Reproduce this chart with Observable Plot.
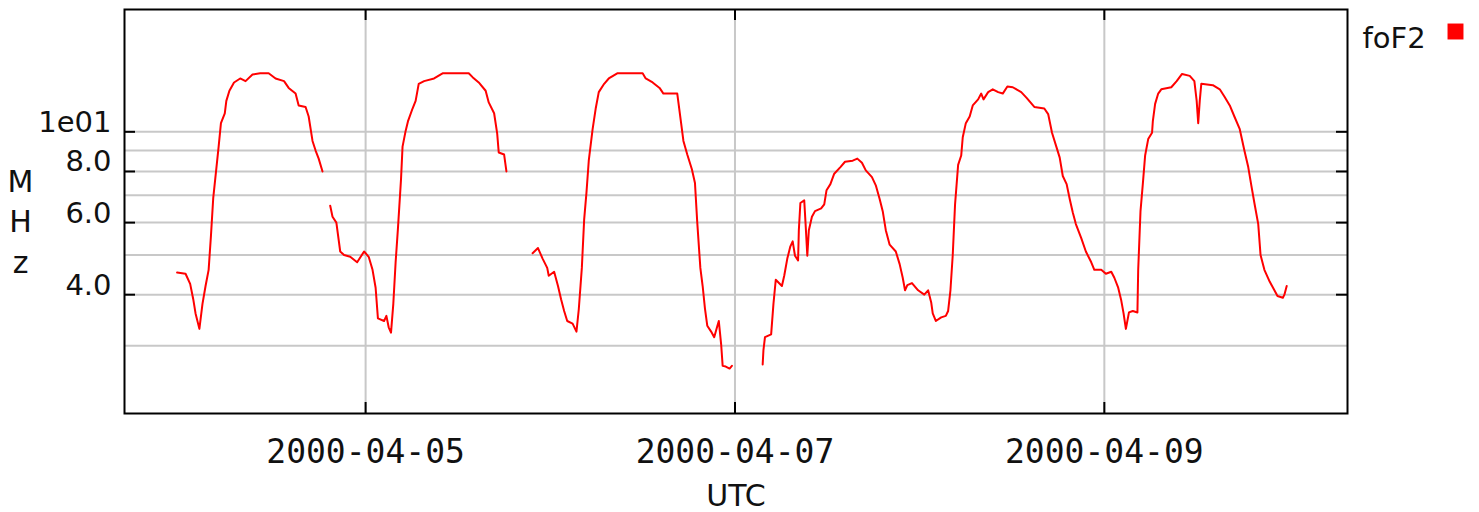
<!DOCTYPE html>
<html>
<head>
<meta charset="utf-8">
<script src="https://cdn.jsdelivr.net/npm/d3@7"></script>
<script src="https://cdn.jsdelivr.net/npm/@observablehq/plot@0.6"></script>
<style>
  html, body { margin: 0; padding: 0; background: #fff; }
  #chart svg { display: block; }
</style>
</head>
<body>
<div id="chart"></div>
<script>
// foF2 (MHz) readings, as [hours since baseTime, MHz]; gaps separate segments
const baseTime = "2000-04-04T00:00:00Z";
const seg1 = [[-0.5,4.53],[0.6,4.5],[1.2,4.25],[1.6,3.9],[1.9,3.6],[2.4,3.3],[2.8,3.8],[3.2,4.2],[3.6,4.6],[3.9,5.57],[4.2,6.9],[4.5,7.8],[4.9,9.2],[5.2,10.5],[5.7,11.1],[5.9,11.9],[6.3,12.6],[6.9,13.2],[7.7,13.5],[8.4,13.3],[9.3,13.8],[10.3,13.9],[11.4,13.9],[12.3,13.5],[13.4,13.3],[14.0,12.8],[14.9,12.4],[15.3,11.6],[16.2,11.5],[16.6,10.9],[17.1,9.5],[17.5,9.0],[17.9,8.6],[18.4,8.0]];
const seg2 = [[19.4,6.6],[19.7,6.2],[20.2,6.0],[20.7,5.1],[21.2,5.0],[22.0,4.95],[22.9,4.8],[23.8,5.1],[24.4,4.95],[24.9,4.6],[25.3,4.16],[25.6,3.5],[26.4,3.45],[26.7,3.55],[27.0,3.33],[27.3,3.23],[27.6,3.8],[27.9,4.8],[28.2,5.8],[28.6,7.65],[28.8,9.2],[29.2,10.05],[29.5,10.6],[30.1,11.4],[30.5,11.9],[30.9,13.1],[31.6,13.3],[32.9,13.5],[34.0,13.9],[37.4,13.9],[37.9,13.6],[38.7,13.2],[39.6,12.6],[40.0,11.8],[40.7,11.1],[41.1,9.9],[41.3,8.9],[42.0,8.8],[42.3,8.0]];
const seg3 = [[45.7,5.05],[46.4,5.2],[47.0,4.9],[47.6,4.65],[47.8,4.45],[48.5,4.55],[49.0,4.2],[49.4,3.9],[49.8,3.65],[50.2,3.45],[50.9,3.4],[51.4,3.25],[51.7,3.68],[52.1,4.65],[52.4,6.1],[52.7,7.1],[53.0,8.5],[53.5,10.15],[53.9,11.4],[54.3,12.5],[55.0,13.1],[55.6,13.5],[56.7,13.9],[60.0,13.9],[60.4,13.5],[61.3,13.2],[62.2,12.8],[62.7,12.4],[64.5,12.4],[65.0,10.5],[65.3,9.5],[65.8,8.8],[66.4,8.1],[66.8,7.5],[67.1,6.0],[67.5,4.65],[67.8,4.2],[68.1,3.7],[68.4,3.36],[68.9,3.25],[69.3,3.15],[69.7,3.35],[69.9,3.45],[70.2,3.03],[70.4,2.68],[70.8,2.67],[71.3,2.64],[71.6,2.68]];
const seg4 = [[75.6,2.7],[75.7,2.93],[75.9,3.15],[76.7,3.2],[77.0,3.8],[77.3,4.35],[78.1,4.2],[78.4,4.45],[78.8,4.9],[79.2,5.25],[79.5,5.4],[79.8,4.98],[80.2,4.85],[80.3,5.75],[80.5,6.7],[81.0,6.8],[81.2,5.85],[81.4,4.98],[81.6,5.75],[82.0,6.2],[82.4,6.4],[83.2,6.5],[83.6,6.65],[83.9,7.2],[84.4,7.45],[84.9,7.9],[85.7,8.2],[86.3,8.45],[87.3,8.5],[87.9,8.6],[88.5,8.4],[89.0,8.05],[89.8,7.75],[90.3,7.4],[90.8,6.85],[91.2,6.4],[91.6,5.75],[92.1,5.3],[92.9,5.1],[93.4,4.75],[93.8,4.4],[94.1,4.1],[94.4,4.22],[95.0,4.27],[95.8,4.1],[96.6,4.0],[97.1,4.1],[97.5,3.83],[97.7,3.6],[98.1,3.45],[98.8,3.52],[99.4,3.55],[99.7,3.65],[100.0,4.1],[100.3,5.0],[100.6,6.65],[101.0,8.3],[101.4,8.75],[101.6,9.7],[102.0,10.5],[102.5,10.9],[102.9,11.6],[103.6,12.0],[104.0,12.4],[104.3,12.0],[104.9,12.5],[105.5,12.7],[106.2,12.5],[106.8,12.4],[107.4,12.9],[108.1,12.85],[109.2,12.5],[109.9,12.1],[110.9,11.5],[112.2,11.4],[112.7,11.05],[113.2,9.95],[113.8,9.15],[114.2,8.65],[114.6,7.8],[115.1,7.45],[115.5,6.85],[115.9,6.35],[116.3,5.95],[117.0,5.5],[117.6,5.1],[118.3,4.8],[118.7,4.6],[119.6,4.6],[120.2,4.5],[120.9,4.55],[121.3,4.4],[121.8,4.16],[122.2,3.87],[122.5,3.6],[122.8,3.3],[123.2,3.62],[123.7,3.65],[124.3,3.62],[124.4,4.6],[124.7,6.4],[125.0,7.45],[125.3,8.75],[125.7,9.6],[126.2,9.95],[126.3,10.6],[126.6,11.7],[127.0,12.4],[127.4,12.7],[128.7,12.85],[129.4,13.3],[130.1,13.85],[131.1,13.7],[131.7,13.3],[132.0,11.9],[132.2,10.5],[132.4,11.9],[132.6,13.1],[134.1,13.0],[135.0,12.7],[135.6,12.2],[136.3,11.6],[136.9,10.9],[137.6,10.15],[138.2,9.0],[138.7,8.2],[139.1,7.4],[139.5,6.7],[140.0,5.95],[140.3,5.0],[140.8,4.6],[141.5,4.3],[142.1,4.1],[142.5,3.97],[143.2,3.93],[143.4,4.0],[143.7,4.2]];
const segments = [seg1, seg2, seg3, seg4];

const xDomain = ["2000-04-03T16:40:00Z", "2000-04-10T07:36:00Z"];
const yDomain = [2.05, 19.9];
const xTickDates = ["2000-04-05", "2000-04-07", "2000-04-09"];
const yGrid = [3, 4, 5, 6, 7, 8, 9, 10];
const yTicks = [4, 6, 8, 10];
const yTickLabels = {4: "4.0", 6: "6.0", 8: "8.0", 10: "1e01"};
const seriesName = "foF2";
const yLabel = "M\nH\nz";
const xLabel = "UTC";

const base = new Date(baseTime).getTime();
const rows = segments.flatMap((s, i) => s.map(([h, v]) => ({t: new Date(base + h * 3600e3), v, seg: i})));
const xTicks = xTickDates.map(d => new Date(d + "T00:00:00Z"));

const W = 1479, H = 512;
const mL = 124, mR = 132, mT = 9, mB = 99;
const plotW = W - mL - mR, plotH = H - mT - mB;
const sans = "DejaVu Sans";
const mono = "DejaVu Sans Mono";

const chart = Plot.plot({
  width: W,
  height: H,
  marginLeft: mL,
  marginRight: mR,
  marginTop: mT,
  marginBottom: mB,
  style: {fontFamily: sans, fontSize: "29px", color: "#111", background: "#fff"},
  x: {type: "utc", domain: xDomain.map(d => new Date(d)), axis: null},
  y: {type: "log", domain: yDomain, axis: null},
  marks: [
    Plot.ruleY(yGrid, {stroke: "#c8c8c8", strokeWidth: 2}),
    Plot.ruleX(xTicks, {stroke: "#c8c8c8", strokeWidth: 2}),
    Plot.tickY(yTicks, {y: d => d, stroke: "#000", strokeWidth: 2, insetRight: plotW - 11}),
    Plot.tickY(yTicks, {y: d => d, stroke: "#000", strokeWidth: 2, insetLeft: plotW - 11}),
    Plot.tickX(xTicks, {x: d => d, stroke: "#000", strokeWidth: 2, insetTop: plotH - 11}),
    Plot.tickX(xTicks, {x: d => d, stroke: "#000", strokeWidth: 2, insetBottom: plotH - 11}),
    Plot.line(rows, {x: "t", y: "v", z: "seg", stroke: "#ff0000", strokeWidth: 2, curve: "linear"}),
    Plot.frame({stroke: "#000", strokeWidth: 2}),
    Plot.axisY(yTicks, {tickSize: 0, tickPadding: 13, tickFormat: d => yTickLabels[d], lineAnchor: "bottom", dy: 0, label: null, fontFamily: sans, fontSize: 29, fill: "#111"}),
    Plot.axisX(xTicks, {tickSize: 0, tickPadding: 49, tickFormat: d3.utcFormat("%Y-%m-%d"), lineAnchor: "bottom", label: null, fontFamily: mono, fontSize: 33, fill: "#111"}),
    Plot.text([yLabel], {text: d => d, frameAnchor: "top-left", dx: 20 - mL, dy: 272 - mT, lineAnchor: "bottom", lineHeight: 1.34, textAnchor: "middle", fontFamily: sans, fontSize: 30, fill: "#111"}),
    Plot.text([xLabel], {text: d => d, frameAnchor: "bottom", dy: 505 - (H - mB), lineAnchor: "bottom", textAnchor: "middle", fontFamily: sans, fontSize: 30, fill: "#111"}),
    Plot.text([seriesName], {text: d => d, frameAnchor: "top-right", dx: 15, dy: 47 - mT, lineAnchor: "bottom", textAnchor: "start", fontFamily: sans, fontSize: 29, fill: "#111"}),
    Plot.dot([seriesName], {frameAnchor: "top-right", dx: 1455 - (W - mR), dy: 31 - mT, symbol: "square", r: 9, fill: "#ff0000", stroke: null})
  ]
});
document.getElementById("chart").appendChild(chart);
</script>
</body>
</html>
